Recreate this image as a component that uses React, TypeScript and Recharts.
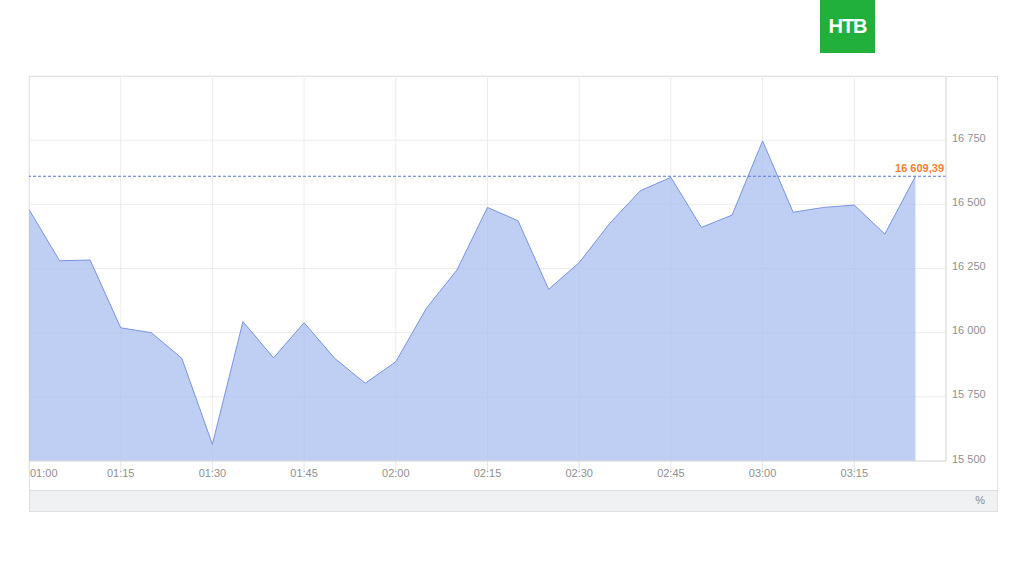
import React from 'react';
import { ComposedChart, Area, XAxis, YAxis, CartesianGrid, ReferenceLine } from 'recharts';

const times = [
  '01:00', '01:05', '01:10', '01:15', '01:20', '01:25', '01:30', '01:35', '01:40', '01:45',
  '01:50', '01:55', '02:00', '02:05', '02:10', '02:15', '02:20', '02:25', '02:30', '02:35',
  '02:40', '02:45', '02:50', '02:55', '03:00', '03:05', '03:10', '03:15', '03:20', '03:25',
];
const values = [
  16480, 16280, 16283, 16019, 16000, 15900, 15565, 16043, 15902, 16039,
  15900, 15803, 15887, 16095, 16244, 16488, 16436, 16169, 16273, 16426,
  16553, 16605, 16410, 16458, 16747, 16469, 16488, 16497, 16384, 16609.39,
];
const tickLabels = ['01:00', '01:15', '01:30', '01:45', '02:00', '02:15', '02:30', '02:45', '03:00', '03:15'];
const yTicks = [15500, 15750, 16000, 16250, 16500, 16750];
const lastValue = 16609.39;
const lastLabel = '16 609,39';
const startTime = '01:00';
const endTime = '03:30';

const toMin = (t: string) => {
  const [h, m] = t.split(':').map(Number);
  return h * 60 + m;
};
const base = toMin(startTime);
const data = times.map((t, i) => ({ t: toMin(t) - base, v: values[i] }));
const xTicks = tickLabels.map((t) => toMin(t) - base);
const xDomain = [0, toMin(endTime) - base];

const fmt = (n: number) => String(n).replace(/\B(?=(\d{3})+(?!\d))/g, ' ');
const FONT = "Arial, 'Liberation Sans', sans-serif";

const XTick = (props: any) => {
  const { x, y, payload } = props;
  const idx = xTicks.indexOf(payload.value);
  const label = idx >= 0 ? tickLabels[idx] : '';
  return (
    <text x={payload.value === 0 ? x + 1 : x} y={y + 4} textAnchor={payload.value === 0 ? 'start' : 'middle'}
      fill="#909090" fontSize={11} fontFamily={FONT}>
      {label}
    </text>
  );
};

const YTick = (props: any) => {
  const { x, y, payload } = props;
  return (
    <text x={x - 2} y={y + 1.5} textAnchor="start" fill="#909090" fontSize={11} fontFamily={FONT}>
      {fmt(payload.value)}
    </text>
  );
};

const RefLabel = (props: any) => {
  const vb = props.viewBox || {};
  return (
    <text x={vb.x + vb.width - 2} y={vb.y - 4} textAnchor="end" fill="#f7802c" fontSize={11}
      fontWeight="bold" fontFamily={FONT}>
      {lastLabel}
    </text>
  );
};

export default function App() {
  return (
    <div style={{ position: 'absolute', left: 0, top: 0, width: 1024, height: 576, background: '#fff', overflow: 'hidden' }}>
      {/* logo */}
      <div style={{
        position: 'absolute', left: 820, top: 0, width: 55, height: 53, background: '#21b03b',
        display: 'flex', alignItems: 'center', justifyContent: 'center',
      }}>
        <span style={{ color: '#fff', fontFamily: FONT, fontWeight: 900, fontSize: 20, letterSpacing: -1 }}>НТВ</span>
      </div>
      {/* frame */}
      <div style={{
        position: 'absolute', left: 29, top: 76, width: 967, height: 434, border: '1px solid #dedede',
        borderRight: '1px solid #e2e2e2', boxSizing: 'content-box',
      }} />
      {/* bottom band */}
      <div style={{
        position: 'absolute', left: 30, top: 490, width: 967, height: 20, background: '#f0f1f3',
        borderTop: '1px solid #dcdcdc',
      }}>
        <span style={{ position: 'absolute', right: 12, top: 3, fontSize: 11, color: '#8a8a8a', fontFamily: FONT }}>%</span>
      </div>
      <div style={{ position: 'absolute', left: 0, top: 0 }}>
        <ComposedChart width={1024} height={576} data={data} margin={{ top: 76, left: 29, right: 27, bottom: 86 }}>
          <CartesianGrid stroke="#ececec" strokeWidth={1} />
          <XAxis dataKey="t" type="number" domain={xDomain} ticks={xTicks} height={29}
            axisLine={{ stroke: '#dcdcdc' }} tickLine={{ stroke: '#e6e6e6' }} tickSize={10}
            tick={<XTick />} interval={0} allowDataOverflow />
          <YAxis orientation="right" type="number" domain={[15500, 17000]} ticks={yTicks} width={51}
            axisLine={{ stroke: '#dcdcdc' }} tickLine={false} tick={<YTick />} interval={0} allowDataOverflow />
          <Area type="linear" dataKey="v" stroke="#7a93e2" strokeWidth={1} fill="#a9bdef" fillOpacity={0.75}
            isAnimationActive={false} dot={false} activeDot={false} />
          <ReferenceLine y={lastValue} stroke="#5a78d6" strokeDasharray="3 2" strokeWidth={1} label={<RefLabel />} />
        </ComposedChart>
      </div>
    </div>
  );
}
